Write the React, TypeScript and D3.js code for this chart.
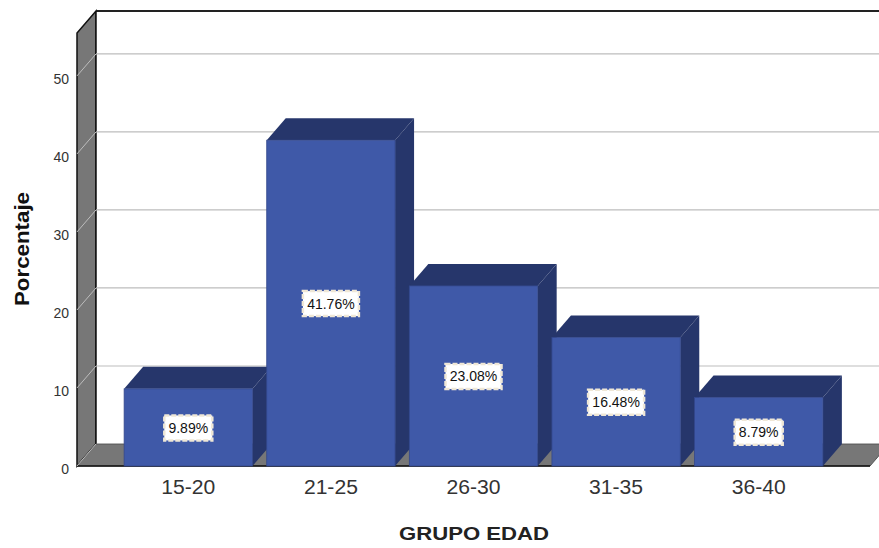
import { scaleBand, scaleLinear } from "d3";

const groups = ["15-20", "21-25", "26-30", "31-35", "36-40"];
const percents = [9.89, 41.76, 23.08, 16.48, 8.79];
const labels = ["9.89%", "41.76%", "23.08%", "16.48%", "8.79%"];
const yTicks = [0, 10, 20, 30, 40, 50];

const W = 879, H = 548;
const DX = 19, DY = 22; // depth of the 3d box
const FLOOR_Y = 466;
const Y_MAX = 55.5;
const FONT = "Liberation Sans, Arial, sans-serif";
const WALL = "#777777", GRID = "#bdbdbd", FRONT = "#3f59a8", DARK = "#26366b";

const scaleY = scaleLinear().domain([0, Y_MAX]).range([FLOOR_Y, 33]);
const scaleX = scaleBand<string>().domain(groups).range([117, 830]).paddingInner(0.1).paddingOuter(0.05);

const poly = (pts: [number, number][]) => pts.map(p => p.join(",")).join(" ");

export default function App() {
  const left = 77, right = 870, top = scaleY(Y_MAX);
  return (
    <svg width={W} height={H} viewBox={`0 0 ${W} ${H}`} style={{ position: "absolute", left: 0, top: 0, background: "#fff" }} fontFamily={FONT}>
      {/* left wall */}
      <polygon points={poly([[left, FLOOR_Y], [left, top], [left + DX, top - DY], [left + DX, FLOOR_Y - DY]])} fill={WALL} stroke="#111" strokeWidth={1.5} />
      {/* floor */}
      <polygon points={poly([[left, FLOOR_Y], [left + DX, FLOOR_Y - DY], [right + DX, FLOOR_Y - DY], [right, FLOOR_Y]])} fill={WALL} stroke="#555" strokeWidth={1} />
      {/* back wall */}
      <rect x={left + DX} y={top - DY} width={W - left - DX} height={FLOOR_Y - top} fill="#fff" />
      <line x1={left + DX} x2={W} y1={top - DY} y2={top - DY} stroke="#222" strokeWidth={2} />
      <line x1={left + DX} x2={left + DX} y1={top - DY} y2={FLOOR_Y - DY} stroke="#111" strokeWidth={1.5} />
      <line x1={left + DX} x2={W} y1={FLOOR_Y - DY} y2={FLOOR_Y - DY} stroke="#666" strokeWidth={1} />
      <line x1={left} x2={right} y1={FLOOR_Y} y2={FLOOR_Y} stroke="#111" strokeWidth={1.5} />

      {yTicks.map(t => (
        <g key={t}>
          {t > 0 && <line x1={left + DX} x2={W} y1={scaleY(t) - DY} y2={scaleY(t) - DY} stroke={GRID} strokeWidth={1.2} />}
          <line x1={left} x2={left + DX} y1={scaleY(t)} y2={scaleY(t) - DY} stroke={GRID} strokeWidth={1} />
          <text x={69} y={scaleY(t) + 8} textAnchor="end" fontSize={14} fill="#333">{t}</text>
        </g>
      ))}

      {groups.map((g, i) => {
        const x0 = scaleX(g) ?? 0, x1 = x0 + scaleX.bandwidth(), y = scaleY(percents[i]);
        const cx = (x0 + x1) / 2, cy = (y + FLOOR_Y) / 2;
        const bw = labels[i].length > 5 ? 58 : 50;
        return (
          <g key={g}>
            <polygon points={poly([[x0, y], [x0 + DX, y - DY], [x1 + DX, y - DY], [x1, y]])} fill={DARK} />
            <polygon points={poly([[x1, y], [x1 + DX, y - DY], [x1 + DX, FLOOR_Y - DY], [x1, FLOOR_Y]])} fill={DARK} />
            <rect x={x0} y={y} width={x1 - x0} height={FLOOR_Y - y} fill={FRONT} stroke="#33488c" strokeWidth={0.8} />
            <rect x={cx - bw / 2 + 1} y={cy - 12} width={bw - 2} height={25} fill="#fff" stroke="#efe7d6" strokeWidth={2.5} strokeDasharray="5 2" />
            <text x={cx} y={cy + 5.5} textAnchor="middle" fontSize={14} fill="#111">{labels[i]}</text>
            <text x={cx} y={494} textAnchor="middle" fontSize={20} fill="#333" textLength={54} lengthAdjust="spacingAndGlyphs">{g}</text>
          </g>
        );
      })}

      <text transform="translate(29,249) rotate(-90)" textAnchor="middle" fontSize={20} fontWeight="bold" fill="#111" textLength={114} lengthAdjust="spacingAndGlyphs">Porcentaje</text>
      <text x={474} y={540} textAnchor="middle" fontSize={19} fontWeight="bold" fill="#222" textLength={150} lengthAdjust="spacingAndGlyphs">GRUPO EDAD</text>
    </svg>
  );
}
